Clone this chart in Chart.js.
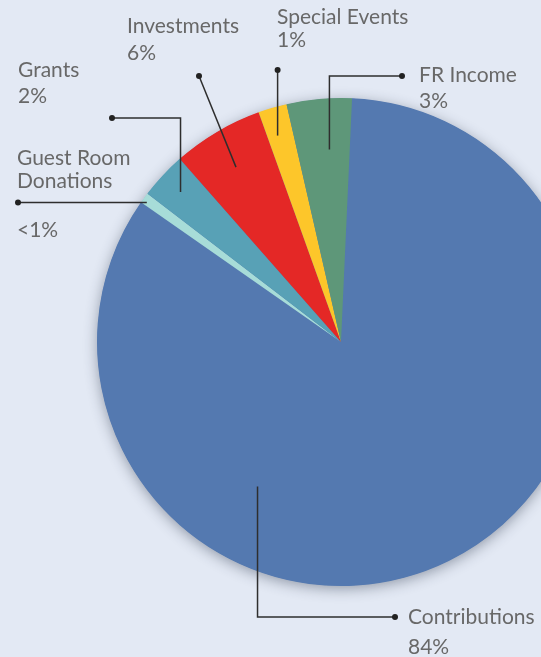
<!DOCTYPE html>
<html>
<head>
<meta charset="utf-8">
<script src="https://cdn.jsdelivr.net/npm/chart.js@4"></script>
<style>
  html, body { margin: 0; padding: 0; background: #e3e9f4; overflow: hidden; }
  #wrap { width: 541px; height: 657px; overflow: hidden; position: relative; }
  canvas { display: block; }
</style>
</head>
<body>
<div id="wrap"><canvas id="c" width="600" height="657" style="width:600px;height:657px"></canvas></div>
<script>
// ---- data ----
const categories = ['Contributions', 'Guest Room Donations', 'Grants', 'Investments', 'Special Events', 'FR Income'];
const values = [83.9, 0.7, 3.1, 6.0, 1.9, 4.3];
const percentLabels = ['84%', '<1%', '2%', '6%', '1%', '3%'];
const labelLines = [['Contributions'], ['Guest Room', 'Donations'], ['Grants'], ['Investments'], ['Special Events'], ['FR Income']];
const colors = ['#5479b0', '#a7dcd8', '#58a1b6', '#e42826', '#fdc62a', '#5e9779'];

// ---- leader layout (decoration only) ----
// t: fraction along slice angle, rf: fraction of radius for the inner end
// type: 'vh' vertical then horizontal to dot, 'h' horizontal to dot, 'v' vertical to dot, 's' straight
const leaders = [
  { t: 0.686, rf: 0.684, type: 'vh', dot: [395, 617], text: [408, 624], gap: 30 },
  { t: 0.3,  rf: 0.98, type: 'h',  dot: [18, null], text: [17, 165], gap: 23, pctY: 237 },
  { t: 0.5,  rf: 0.90, type: 'vh', dot: [112, 118], text: [18, 77], gap: 26 },
  { t: 0.48, rf: 0.836, type: 's', dot: [199, 76], text: [127, 33], gap: 27 },
  { t: 0.39, rf: 0.885, type: 'v', dot: [null, 70], text: [277, 24], gap: 23 },
  { t: 0.61, rf: 0.79, type: 'vh', dot: [402, 76], text: [419, 82], gap: 26 }
];

const shadowPlugin = {
  id: 'pieShadow',
  beforeDatasetsDraw(chart) {
    const arc = chart.getDatasetMeta(0).data[0];
    if (!arc) return;
    const ctx = chart.ctx;
    ctx.save();
    ctx.shadowColor = 'rgba(40,50,70,0.45)';
    ctx.shadowBlur = 14;
    ctx.shadowOffsetX = 0;
    ctx.shadowOffsetY = 3;
    ctx.beginPath();
    ctx.arc(arc.x, arc.y, arc.outerRadius - 0.5, 0, Math.PI * 2);
    ctx.fillStyle = colors[0];
    ctx.fill();
    ctx.restore();
  }
};

const leaderPlugin = {
  id: 'leaders',
  afterDatasetsDraw(chart) {
    const ctx = chart.ctx;
    const arcs = chart.getDatasetMeta(0).data;
    ctx.save();
    arcs.forEach((arc, i) => {
      const L = leaders[i];
      const a = arc.startAngle + L.t * (arc.endAngle - arc.startAngle);
      const r = arc.outerRadius * L.rf;
      const ax = arc.x + Math.cos(a) * r;
      const ay = arc.y + Math.sin(a) * r;
      let dx = L.dot[0] === null ? ax : L.dot[0];
      let dy = L.dot[1] === null ? ay : L.dot[1];
      ctx.strokeStyle = '#2e2e2e';
      ctx.lineWidth = 1.5;
      ctx.beginPath();
      ctx.moveTo(ax, ay);
      if (L.type === 'vh') { ctx.lineTo(ax, dy); ctx.lineTo(dx, dy); }
      else ctx.lineTo(dx, dy);
      ctx.stroke();
      ctx.fillStyle = '#222';
      ctx.beginPath();
      ctx.arc(dx, dy, 3, 0, Math.PI * 2);
      ctx.fill();
      // text
      ctx.fillStyle = '#686868';
      ctx.font = '400 21px Lato, "Open Sans", sans-serif';
      ctx.textAlign = 'left';
      ctx.textBaseline = 'alphabetic';
      let y = L.text[1];
      labelLines[i].forEach((ln, k) => {
        ctx.fillText(ln, L.text[0], y);
        if (k < labelLines[i].length - 1) y += L.gap;
      });
      const py = L.pctY ? L.pctY : y + L.gap;
      ctx.fillText(percentLabels[i], L.text[0], py);
    });
    ctx.restore();
  }
};

new Chart(document.getElementById('c'), {
  type: 'pie',
  data: {
    labels: categories,
    datasets: [{
      data: values,
      backgroundColor: colors,
      borderWidth: 0,
      hoverOffset: 0,
      offset: 0
    }]
  },
  options: {
    responsive: false,
    animation: false,
    events: [],
    rotation: 2.6,
    layout: { padding: { left: 97, top: 98, right: 15, bottom: 71 } },
    plugins: { legend: { display: false }, tooltip: { enabled: false } }
  },
  plugins: [shadowPlugin, leaderPlugin]
});
</script>
</body>
</html>
